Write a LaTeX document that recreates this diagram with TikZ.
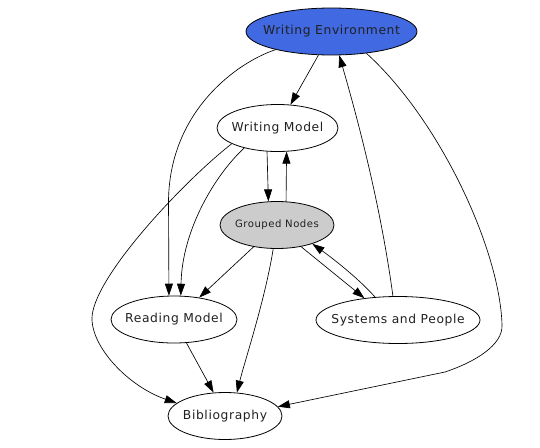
\documentclass[tikz,border=0pt]{standalone}
\usepackage{fontspec}
\setmainfont[LetterSpace=5]{DejaVu Sans}
\usetikzlibrary{arrows.meta,shapes.geometric}
\definecolor{weblue}{HTML}{4169E1}
\definecolor{gngray}{HTML}{CCCCCC}
\definecolor{txt}{HTML}{202020}
\newcommand{\zw}[1]{\makebox[0pt]{#1}}
\begin{document}
\begin{tikzpicture}[x=1pt,y=-1pt,
  nd/.style={ellipse,draw,line width=0.8pt,inner sep=0pt,minimum height=47pt,
    text=txt,font=\fontsize{12.3}{14}\selectfont},
  arr/.style={-{Triangle[length=12pt,width=8pt]},line width=0.65pt},
 ]
\useasboundingbox (0,0) rectangle (540,447);
\node[nd,fill=weblue,minimum width=171pt] (we) at (331.5,31.5) {\zw{Writing Environment}};
\node[nd,minimum width=121pt] (wm) at (277.5,128) {\zw{Writing Model}};
\node[nd,fill=gngray,minimum width=114pt,font=\fontsize{10.1}{12}\selectfont] (gn) at (277,225) {\zw{Grouped Nodes}};
\node[nd,minimum width=126pt] (rm) at (174,319.5) {\zw{Reading Model}};
\node[nd,minimum width=164pt] (sp) at (398,320) {\zw{Systems and People}};
\node[nd,minimum width=114pt] (bib) at (225,416) {\zw{Bibliography}};

\draw[arr] (we.241.6) -- (wm.61.5);
\draw[arr] (sp.102) .. controls (380,200) and (355,110) .. (we.-72.6);
\draw[arr] (we.198.7) .. controls (238,62) and (170,110) .. (168.5,200) -- (rm.102.8);
\draw[arr] (we.-32) .. controls (440,120) and (500,250) .. (502,325)
   .. controls (503,345) and (475,362) .. (445,372) -- (bib.10);
\draw[arr] (wm.211.6) .. controls (215,175) and (182,230) .. (rm.74.7);
\draw[arr] (wm.199.7) .. controls (185,180) and (90,280) .. (92,320)
   .. controls (93.5,350) and (130,387) .. (bib.165.4);
\draw[arr] (wm.-114.5) -- (gn.110.6);
\draw[arr] (gn.69.4) -- (wm.-69.7);
\draw[arr] (gn.-137.6) -- (rm.41.2);
\draw[arr] (gn.-99.9) .. controls (265,300) and (245,360) .. (bib.63.4);
\draw[arr] (gn.-42.3) -- (sp.147.4);
\draw[arr] (sp.135) .. controls (360,280) and (335,260) .. (gn.-28.5);
\draw[arr] (rm.-62.4) -- (bib.116.6);
\end{tikzpicture}
\end{document}
